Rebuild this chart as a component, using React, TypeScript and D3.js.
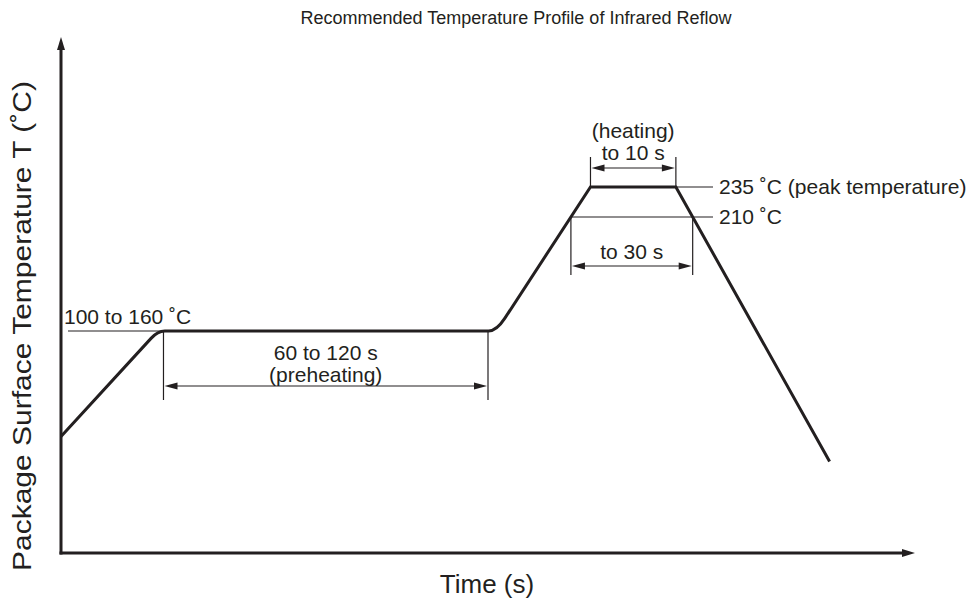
import React from "react";
import * as d3 from "d3";

// profile vertices: time (s) and temperature (˚C), schematic
const profileTime = [0, 34, 153, 186, 216, 270];
const profileTemp = [84, 160, 160, 235, 235, 66];

const preheatWindow = [36, 150]; // s
const heatingWindow = [186, 216]; // s (peak plateau)
const peakTemp = 235;
const reflowTemp = 210;
const preheatTemp = 160;

const titleText = "Recommended Temperature Profile of Infrared Reflow";
const xLabel = "Time (s)";
const yLabel = "Package Surface Temperature T (˚C)";
const preheatLabel = "100 to 160 ˚C";
const preheatTimeLabels = ["60 to 120 s", "(preheating)"];
const heatingLabels = ["(heating)", "to 10 s"];
const reflowTimeLabel = "to 30 s";
const peakLabel = "235 ˚C (peak temperature)";
const reflowLabel = "210 ˚C";

const INK = "#231f20";
const FONT = "'Liberation Sans', Arial, Helvetica, sans-serif";

const arrowHead = (tx: number, ty: number, dx: number, dy: number, len = 13, hw = 3.6) => {
  const bx = tx - dx * len;
  const by = ty - dy * len;
  const px = -dy * hw;
  const py = dx * hw;
  return `${tx},${ty} ${bx + px},${by + py} ${bx - px},${by - py}`;
};

const DimArrow = ({ x1, x2, yy }: { x1: number; x2: number; yy: number }) => (
  <g>
    <line x1={x1 + 8} x2={x2 - 8} y1={yy} y2={yy} stroke={INK} strokeWidth={1.2} />
    <polygon points={arrowHead(x1 + 1, yy, -1, 0)} fill={INK} />
    <polygon points={arrowHead(x2 - 1, yy, 1, 0)} fill={INK} />
  </g>
);

export default function App() {
  const width = 972;
  const height = 601;
  const x = d3.scaleLinear().domain([0, 300]).range([61, 915]);
  // schematic, non-linear temperature axis
  const y = d3.scaleLinear().domain([0, 160, 210, 235]).range([553, 331, 217, 187]);

  const pts = profileTime.map((t, i) => [x(t), y(profileTemp[i])] as [number, number]);

  // corner rounding (px along incoming / outgoing segment)
  const rounding: Record<number, [number, number]> = { 1: [10, 7], 2: [8, 15] };
  const path = d3.path();
  path.moveTo(pts[0][0], pts[0][1]);
  for (let i = 1; i < pts.length - 1; i++) {
    const r = rounding[i];
    if (!r) {
      path.lineTo(pts[i][0], pts[i][1]);
      continue;
    }
    const [px, py] = pts[i - 1];
    const [cx, cy] = pts[i];
    const [nx, ny] = pts[i + 1];
    const l1 = Math.hypot(cx - px, cy - py);
    const l2 = Math.hypot(nx - cx, ny - cy);
    path.lineTo(cx - ((cx - px) / l1) * r[0], cy - ((cy - py) / l1) * r[0]);
    path.quadraticCurveTo(cx, cy, cx + ((nx - cx) / l2) * r[1], cy + ((ny - cy) / l2) * r[1]);
  }
  path.lineTo(pts[pts.length - 1][0], pts[pts.length - 1][1]);

  // where the profile crosses the reflow temperature
  const cross = (a: number, b: number, temp: number) => {
    const ty = y(temp);
    const [x1, y1] = pts[a];
    const [x2, y2] = pts[b];
    return x1 + ((ty - y1) / (y2 - y1)) * (x2 - x1);
  };
  const y210 = y(reflowTemp);
  const y235 = y(peakTemp);
  const y160 = y(preheatTemp);
  const xr1 = cross(2, 3, reflowTemp);
  const xr2 = cross(4, 5, reflowTemp);
  const xp1 = x(preheatWindow[0]);
  const xp2 = x(preheatWindow[1]);
  const xh1 = x(heatingWindow[0]);
  const xh2 = x(heatingWindow[1]);
  const x0 = x(0);
  const yBase = y(0);
  const labelX = 713;

  const text = { fontFamily: FONT, fill: INK };

  return (
    <svg width={width} height={height} style={{ position: "absolute", left: 0, top: 0, background: "#fff" }}>
      <text x={516} y={24} textAnchor="middle" fontSize={18} {...text}>
        {titleText}
      </text>

      {/* axes */}
      <line x1={x0} x2={x0} y1={yBase + 1.5} y2={48} stroke={INK} strokeWidth={3} />
      <polygon points={arrowHead(x0, 37, 0, -1, 13, 4)} fill={INK} />
      <line x1={x0 - 1.5} x2={905} y1={yBase} y2={yBase} stroke={INK} strokeWidth={3} />
      <polygon points={arrowHead(x(300), yBase, 1, 0, 13, 4)} fill={INK} />

      {/* reference lines */}
      <line x1={68} x2={xp1} y1={y160} y2={y160} stroke={INK} strokeWidth={1.2} />
      <line x1={xp1} x2={xp1} y1={y160} y2={400} stroke={INK} strokeWidth={1.2} />
      <line x1={xp2} x2={xp2} y1={y160} y2={400} stroke={INK} strokeWidth={1.2} />
      <line x1={xh1} x2={xh1} y1={y235} y2={157} stroke={INK} strokeWidth={1.2} />
      <line x1={xh2} x2={xh2} y1={y235} y2={157} stroke={INK} strokeWidth={1.2} />
      <line x1={xh2} x2={labelX} y1={y235} y2={y235} stroke={INK} strokeWidth={1.2} />
      <line x1={xr1} x2={labelX} y1={y210} y2={y210} stroke={INK} strokeWidth={1.2} />
      <line x1={xr1} x2={xr1} y1={y210} y2={275} stroke={INK} strokeWidth={1.2} />
      <line x1={xr2} x2={xr2} y1={y210} y2={275} stroke={INK} strokeWidth={1.2} />

      {/* dimension arrows */}
      <DimArrow x1={xp1} x2={xp2} yy={386} />
      <DimArrow x1={xh1} x2={xh2} yy={168} />
      <DimArrow x1={xr1} x2={xr2} yy={266} />

      {/* profile */}
      <path d={path.toString()} fill="none" stroke={INK} strokeWidth={3} strokeLinejoin="miter" />

      {/* labels */}
      <text x={64} y={324} fontSize={21} {...text}>
        {preheatLabel}
      </text>
      <text x={(xp1 + xp2) / 2} y={360} textAnchor="middle" fontSize={21} {...text}>
        {preheatTimeLabels[0]}
      </text>
      <text x={(xp1 + xp2) / 2} y={382} textAnchor="middle" fontSize={21} {...text}>
        {preheatTimeLabels[1]}
      </text>
      <text x={(xh1 + xh2) / 2} y={138} textAnchor="middle" fontSize={21} {...text}>
        {heatingLabels[0]}
      </text>
      <text x={(xh1 + xh2) / 2} y={160} textAnchor="middle" fontSize={21} {...text}>
        {heatingLabels[1]}
      </text>
      <text x={(xr1 + xr2) / 2} y={259} textAnchor="middle" fontSize={21} {...text}>
        {reflowTimeLabel}
      </text>
      <text x={labelX + 6} y={y235 + 7} fontSize={21} {...text}>
        {peakLabel}
      </text>
      <text x={labelX + 6} y={y210 + 7} fontSize={21} {...text}>
        {reflowLabel}
      </text>

      <text x={487} y={593} textAnchor="middle" fontSize={26} {...text}>
        {xLabel}
      </text>
      <text
        transform="translate(31,326) rotate(-90)"
        textAnchor="middle"
        fontSize={26}
        textLength={490}
        lengthAdjust="spacingAndGlyphs"
        {...text}
      >
        {yLabel}
      </text>
    </svg>
  );
}
